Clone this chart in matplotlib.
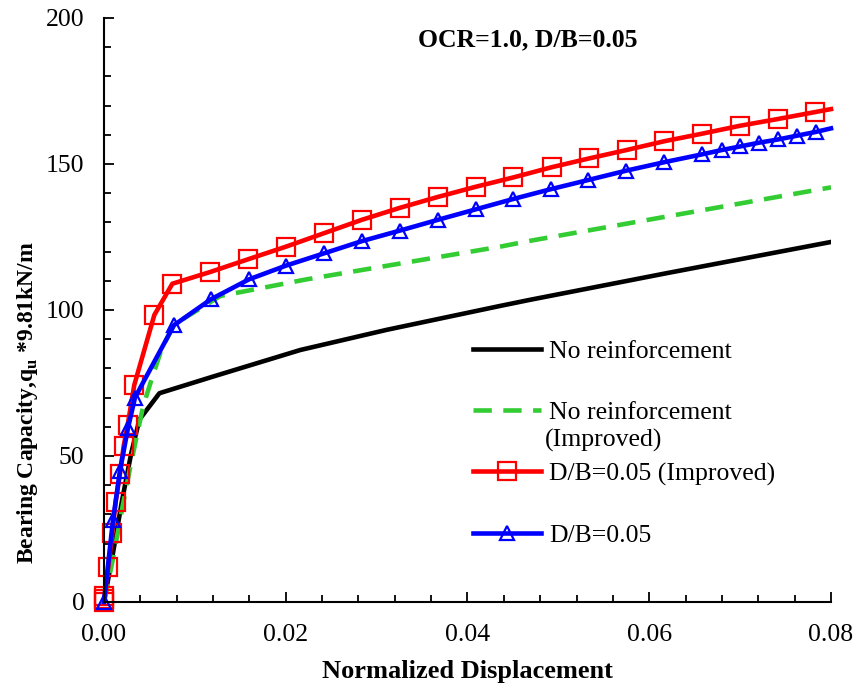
import matplotlib
matplotlib.use("Agg")
import matplotlib.pyplot as plt
from matplotlib.ticker import MultipleLocator

plt.rcParams['font.family'] = ['Liberation Serif', 'DejaVu Serif']
plt.rcParams['mathtext.fontset'] = 'custom'
plt.rcParams['mathtext.rm'] = 'Liberation Serif'
plt.rcParams['mathtext.bf'] = 'Liberation Serif:bold'

# no reinforcement
x_nr = [0, 0.001, 0.002, 0.003, 0.0039, 0.0061, 0.012, 0.0216, 0.0311, 0.0436, 0.0469, 0.0619, 0.080]
y_nr = [0, 17, 35, 51, 62.5, 71.5, 77.2, 86.3, 93.2, 101.4, 103.5, 112.6, 123.3]

# no reinforcement (improved)
x_nri = [0, 0.001, 0.002, 0.003, 0.0043, 0.0051, 0.0063, 0.0077, 0.0128, 0.0223, 0.0436, 0.0469, 0.0619, 0.080]
y_nri = [0, 15, 32, 48, 66.9, 74.9, 86.3, 95, 104.8, 110.5, 121.7, 123.7, 132, 142]

# D/B=0.05 (improved)
x_imp = [0, 0.00002, 0.00005, 0.00047, 0.00091, 0.00129, 0.00176, 0.00217, 0.0026, 0.00333,
         0.00554, 0.00752, 0.01167, 0.01588, 0.02003, 0.02421, 0.02839, 0.03257, 0.03672,
         0.0409, 0.04504, 0.04927, 0.05337, 0.05752, 0.06166, 0.06584, 0.06999, 0.07414,
         0.07828, 0.080]
y_imp = [0, 1, 2, 12, 23.6, 34.4, 44, 53.5, 60.5, 74.3,
         98.3, 109, 113, 117.4, 121.7, 126.3, 130.9, 135, 138.7,
         142.2, 145.4, 148.9, 151.9, 154.8, 157.8, 160.4, 163.1, 165.4,
         167.8, 168.8]

# D/B=0.05
x_db = [0, 0.00099, 0.00176, 0.00264, 0.00341, 0.0077, 0.01178, 0.01596, 0.02003, 0.02421,
        0.02839, 0.03257, 0.03676, 0.04094, 0.04501, 0.04919, 0.05326, 0.05744, 0.06162,
        0.0658, 0.06801, 0.06999, 0.07208, 0.07417, 0.07626, 0.07835, 0.080]
y_db = [0, 28, 45, 59.6, 70, 94.8, 103.7, 110.5, 115.2, 119.4,
        123.6, 127.2, 130.9, 134.5, 138, 141.4, 144.5, 147.7, 150.6,
        153.3, 154.8, 156, 157.3, 158.4, 159.7, 161, 162.2]

fig = plt.figure(figsize=(8.58, 6.91), dpi=100)
ax = fig.add_axes([104/858, 1-602/691, 727/858, 584/691])

ax.plot(x_nr, y_nr, color='black', lw=3.3, label='No reinforcement')
ax.plot(x_nri, y_nri, color='#33cc33', lw=3.3, dashes=(4, 2.5), label='No reinforcement')
ax.plot(x_imp, y_imp, color='red', lw=3.3, marker='s', ms=12.5, mfc='none', mew=1.6,
        markevery=list(range(len(x_imp)-1)), clip_on=False, label='D/B=0.05 (Improved)')
ax.plot(x_db, y_db, color='blue', lw=3.3, marker='^', ms=10, mfc='none', mew=1.6,
        markevery=list(range(len(x_db)-1)), clip_on=False, label='D/B=0.05')

ax.set_xlim(0, 0.08)
ax.set_ylim(0, 200)
ax.xaxis.set_major_locator(MultipleLocator(0.02))
ax.xaxis.set_minor_locator(MultipleLocator(0.004))
ax.yaxis.set_major_locator(MultipleLocator(50))
ax.yaxis.set_minor_locator(MultipleLocator(10))
ax.xaxis.set_major_formatter(plt.FormatStrFormatter('%.2f'))
ax.tick_params(which='both', direction='in', labelsize=18.5, width=1.3)
ax.tick_params(which='major', length=7)
ax.tick_params(which='minor', length=5)
ax.tick_params(axis='x', which='major', pad=16)
ax.tick_params(axis='y', which='major', pad=14)
ax.spines['top'].set_visible(False)
ax.spines['right'].set_visible(False)
ax.spines['left'].set_linewidth(1.5)
ax.spines['bottom'].set_linewidth(1.5)

ax.set_xlabel('Normalized Displacement', fontsize=19, fontweight='bold')
ax.set_ylabel(r'Bearing Capacity,q$_{\mathbf{u}}$ *9.81kN/m', fontsize=17, fontweight='bold')
ax.xaxis.set_label_coords(0.5, -0.1)
ax.yaxis.set_label_coords(-0.088, 0.342)

ax.text(0.583, 0.962, 'OCR=1.0, D/B=0.05', transform=ax.transAxes, fontsize=18.5,
        fontweight='bold', ha='center', va='center')

leg = ax.legend(loc='upper left', bbox_to_anchor=(0.49, 0.47), frameon=False,
                fontsize=18.5, handlelength=2.65, handletextpad=0.3, labelspacing=1.48,
                borderpad=0)
ax.text(0.607, 0.2774, '(Improved)', transform=ax.transAxes, fontsize=18.5,
        ha='left', va='center')

fig.savefig('out.png', dpi=100)
